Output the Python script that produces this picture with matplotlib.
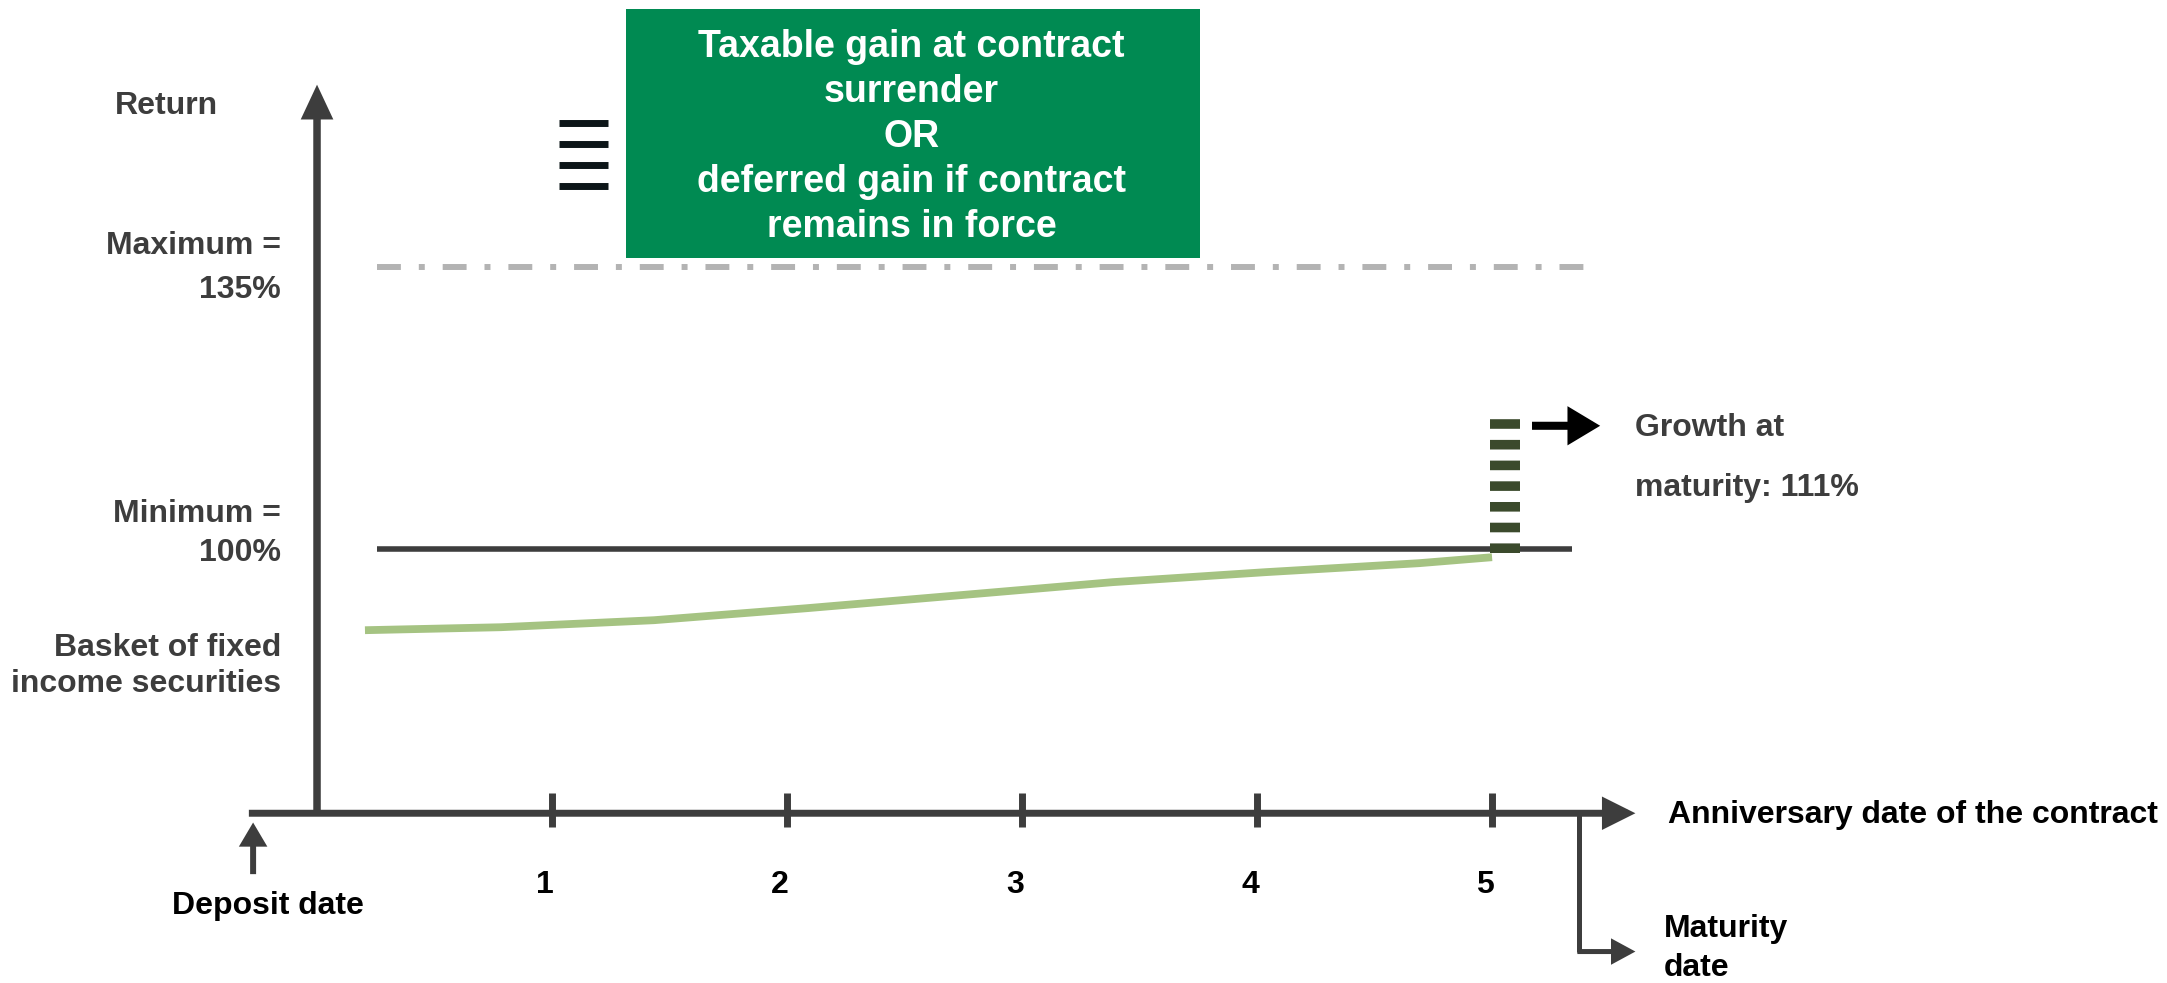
import numpy as np
import matplotlib.pyplot as plt
from matplotlib.patches import Rectangle, ArrowStyle

plt.rcParams['font.family'] = ['Liberation Sans', 'DejaVu Sans']
plt.rcParams['font.weight'] = 'bold'

# ---- schematic values (x: contract years, y: return %) ----
years = [1, 2, 3, 4, 5]
year_labels = ["1", "2", "3", "4", "5"]
minimum = 100
maximum = 135
basket_x = [0.204, 0.783, 1.434, 2.085, 2.736, 3.387, 4.038, 4.689, 5.0]
basket_y = [89.95, 90.32, 91.19, 92.68, 94.29, 95.91, 97.15, 98.26, 99.0]
growth_top = 117.2          # top of the dashed growth bar as drawn
growth_bottom = 99.5
axis_y = 67.25              # return level where the time axis sits

DARK = "#3d3d3d"
fig = plt.figure(figsize=(21.67, 9.83), dpi=100)
ax = fig.add_axes([0, 0, 1, 1])
ax.set_xlim(-1.349, 7.872)
ax.set_ylim(46.2, 168.1)
ax.axis("off")

def arrow(x0, y0, x1, y1, lw, hl, hw, color=DARK):
    style = ArrowStyle("-|>", head_length=hl, head_width=hw)
    ax.annotate("", xy=(x1, y1), xytext=(x0, y0),
                arrowprops=dict(arrowstyle=style, lw=lw, color=color,
                                mutation_scale=1, shrinkA=0, shrinkB=0,
                                capstyle="butt", joinstyle="miter"))

# axes
arrow(0, axis_y, 0, 157.6, 5.4, 16, 7.5)
arrow(-0.29, axis_y, 5.61, axis_y, 5.0, 16, 8)
for yr in years:
    ax.plot([yr, yr], [65.5, 69.7], color=DARK, lw=5.0, solid_capstyle="butt")
for yr, lab in zip(years, year_labels):
    ax.text(yr - 0.03, 58.4, lab, ha="center", va="center", fontsize=23, color="black")

# deposit date
arrow(-0.272, 59.7, -0.272, 66.1, 4.3, 11, 6.5)
ax.text(-0.21, 55.8, "Deposit date", ha="center", va="center", fontsize=23, color="black")

# maturity bracket
ax.plot([5.37, 5.37], [axis_y, 50.1], color=DARK, lw=3.6, solid_capstyle="butt")
arrow(5.363, 50.1, 5.61, 50.1, 3.6, 12, 6.5)
ax.text(5.73, 52.9, "Maturity", ha="left", va="center", fontsize=23, color="black")
ax.text(5.73, 48.1, "date", ha="left", va="center", fontsize=23, color="black")
ax.text(5.75, 67.0, "Anniversary date of the contract", ha="left", va="center",
        fontsize=23, color="black")

# minimum / maximum lines
ax.plot([0.255, 5.34], [minimum, minimum], color=DARK, lw=4.0, solid_capstyle="butt")
ax.plot([0.255, 5.41], [maximum, maximum], color="#b3b3b3", lw=4.3,
        dashes=(4.0, 3.0, 1.0, 3.0), dash_capstyle="butt")

# basket of fixed income securities
ax.plot(basket_x, basket_y, color="#a5c382", lw=5.6, solid_capstyle="butt",
        solid_joinstyle="round")

# growth at maturity bar
ax.plot([5.055, 5.055], [growth_bottom, growth_top], color="#3b4a2c", lw=21.6,
        dashes=(0.32, 0.37), dash_capstyle="butt")
arrow(5.17, 115.3, 5.46, 115.3, 5.8, 15, 9, color="black")
ax.text(5.61, 115.0, "Growth at", ha="left", va="center", fontsize=23, color=DARK)
ax.text(5.61, 107.6, "maturity: 111%", ha="left", va="center", fontsize=23, color=DARK)

# left labels
ax.text(-0.86, 155.0, "Return", ha="left", va="center", fontsize=23, color=DARK)
ax.text(-0.153, 137.6, "Maximum =", ha="right", va="center", fontsize=23, color=DARK)
ax.text(-0.153, 132.1, "135%", ha="right", va="center", fontsize=23, color=DARK)
ax.text(-0.153, 104.3, "Minimum =", ha="right", va="center", fontsize=23, color=DARK)
ax.text(-0.153, 99.5, "100%", ha="right", va="center", fontsize=23, color=DARK)
ax.text(-0.153, 87.8, "Basket of fixed", ha="right", va="center", fontsize=23, color=DARK)
ax.text(-0.153, 83.3, "income securities", ha="right", va="center", fontsize=23, color=DARK)

# taxable gain box
ax.add_patch(Rectangle((1.314, 136.1), 2.443, 30.9, facecolor="#008a52", edgecolor="none"))
ax.text(2.53, 151.1,
        "Taxable gain at contract\nsurrender\nOR\ndeferred gain if contract\nremains in force",
        ha="center", va="center", fontsize=27, color="white", linespacing=1.32)
for yb in [152.9, 150.2, 147.6, 145.0]:
    ax.plot([1.03, 1.24], [yb, yb], color="#0d1619", lw=5.0, solid_capstyle="butt")

fig.savefig("out.png", dpi=100)
